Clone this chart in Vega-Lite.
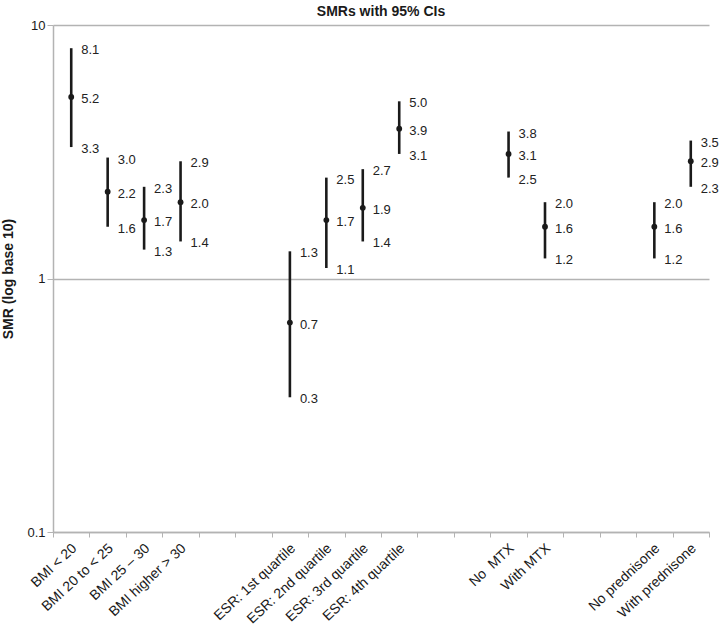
{
  "$schema": "https://vega.github.io/schema/vega-lite/v6.json",
  "width": 656,
  "height": 507,
  "autosize": {"type": "none"},
  "padding": {"left": 53, "top": 25, "right": 11, "bottom": 110},
  "title": {"text": "SMRs with 95% CIs", "fontSize": 14, "fontWeight": "bold", "font": "Liberation Sans", "color": "#1a1a1a", "offset": 0},
  "config": {
    "view": {"stroke": null},
    "font": "Liberation Sans"
  },
  "data": {
    "values": [
      {"group": "BMI < 20", "lower": 3.3, "smr": 5.2, "upper": 8.1},
      {"group": "BMI 20 to < 25", "lower": 1.6, "smr": 2.2, "upper": 3.0},
      {"group": "BMI 25 – 30", "lower": 1.3, "smr": 1.7, "upper": 2.3},
      {"group": "BMI higher > 30", "lower": 1.4, "smr": 2.0, "upper": 2.9},
      {"group": "ESR: 1st quartile", "lower": 0.34, "smr": 0.67, "upper": 1.28},
      {"group": "ESR: 2nd quartile", "lower": 1.1, "smr": 1.7, "upper": 2.5},
      {"group": "ESR: 3rd quartile", "lower": 1.4, "smr": 1.9, "upper": 2.7},
      {"group": "ESR: 4th quartile", "lower": 3.1, "smr": 3.9, "upper": 5.0},
      {"group": "No \u00a0MTX", "lower": 2.5, "smr": 3.1, "upper": 3.8},
      {"group": "With MTX", "lower": 1.2, "smr": 1.6, "upper": 2.0},
      {"group": "No prednisone", "lower": 1.2, "smr": 1.6, "upper": 2.0},
      {"group": "With prednisone", "lower": 2.3, "smr": 2.9, "upper": 3.5}
    ]
  },
  "layer": [
    {
      "mark": {"type": "rule", "color": "#1a1a1a", "strokeWidth": 2.6},
      "encoding": {
        "x": {
          "field": "group",
          "type": "nominal",
          "scale": {
            "domain": ["BMI < 20", "BMI 20 to < 25", "BMI 25 – 30", "BMI higher > 30", " ", "  ",
                       "ESR: 1st quartile", "ESR: 2nd quartile", "ESR: 3rd quartile", "ESR: 4th quartile", "   ", "    ",
                       "No \u00a0MTX", "With MTX", "     ", "      ", "No prednisone", "With prednisone"],
            "paddingInner": 0,
            "paddingOuter": 0
          },
          "axis": {
            "title": null,
            "labelAngle": -43,
            "labelAlign": "right",
            "labelBaseline": "middle",
            "labelFontSize": 14,
            "labelColor": "#1a1a1a",
            "labelPadding": 9,
            "labelOffset": 3,
            "tickBand": "extent",
            "tickColor": "#b3b3b3",
            "tickSize": 5,
            "domainColor": "#b3b3b3",
            "domainWidth": 1.5,
            "grid": false
          }
        },
        "y": {
          "field": "lower",
          "type": "quantitative",
          "scale": {"type": "log", "domain": [0.1, 10], "nice": false},
          "axis": {
            "title": "SMR (log base 10)",
            "titleFontSize": 14,
            "titleFontWeight": "bold",
            "titleColor": "#1a1a1a",
            "titlePadding": 11,
            "values": [0.1, 1, 10],
            "labelFontSize": 13,
            "labelColor": "#1a1a1a",
            "tickColor": "#b3b3b3",
            "tickSize": 6,
            "domainColor": "#b3b3b3",
            "domainWidth": 1.5,
            "grid": true,
            "gridColor": "#b3b3b3",
            "gridWidth": 1.5
          }
        },
        "y2": {"field": "upper"}
      }
    },
    {
      "mark": {"type": "circle", "color": "#1a1a1a", "opacity": 1, "size": 34},
      "encoding": {
        "x": {"field": "group", "type": "nominal"},
        "y": {"field": "smr", "type": "quantitative"}
      }
    },
    {
      "mark": {"type": "text", "align": "left", "baseline": "middle", "dx": 10, "dy": 2, "fontSize": 13, "color": "#222222"},
      "encoding": {
        "x": {"field": "group", "type": "nominal"},
        "y": {"field": "upper", "type": "quantitative"},
        "text": {"field": "upper", "type": "quantitative", "format": ".1f"}
      }
    },
    {
      "mark": {"type": "text", "align": "left", "baseline": "middle", "dx": 10, "dy": 2, "fontSize": 13, "color": "#222222"},
      "encoding": {
        "x": {"field": "group", "type": "nominal"},
        "y": {"field": "smr", "type": "quantitative"},
        "text": {"field": "smr", "type": "quantitative", "format": ".1f"}
      }
    },
    {
      "mark": {"type": "text", "align": "left", "baseline": "middle", "dx": 10, "dy": 2, "fontSize": 13, "color": "#222222"},
      "encoding": {
        "x": {"field": "group", "type": "nominal"},
        "y": {"field": "lower", "type": "quantitative"},
        "text": {"field": "lower", "type": "quantitative", "format": ".1f"}
      }
    }
  ]
}
